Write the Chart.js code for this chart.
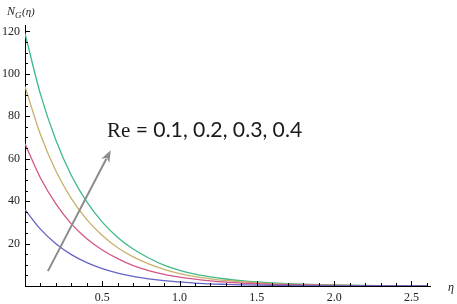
<!DOCTYPE html>
<html><head><meta charset="utf-8">
<script src="https://cdn.jsdelivr.net/npm/chart.js@4"></script>
<style>html,body{margin:0;padding:0;background:#fff}canvas{display:block}</style>
</head><body>
<canvas id="c" width="457" height="304"></canvas>
<script>
const etaValues = [0,0.1,0.2,0.3,0.4,0.5,0.6,0.7,0.8,0.9,1.0,1.1,1.2,1.3,1.4,1.5,1.6,1.7,1.8,1.9,2.0,2.1,2.2,2.3,2.4,2.5,2.6];
const seriesRe01 = [36,26.8,19.9,14.8,11.0,8.2,6.1,4.5,3.4,2.5,1.9,1.4,1.0,0.77,0.57,0.42,0.31,0.23,0.17,0.13,0.1,0.07,0.05,0.04,0.03,0.02,0.02];
const seriesRe02 = [67,50.9,38.7,29.3,22.3,17.0,12.9,9.6,7.3,5.5,4.2,3.2,2.4,1.8,1.4,1.05,0.8,0.6,0.46,0.35,0.26,0.2,0.15,0.11,0.08,0.06,0.05];
const seriesRe03 = [94,71.4,54.2,41.2,31.3,23.8,18.0,13.7,10.4,7.8,5.8,4.4,3.4,2.6,2.0,1.5,1.15,0.88,0.66,0.5,0.38,0.29,0.22,0.17,0.13,0.1,0.07];
const seriesRe04 = [119,90.4,68.7,52.1,39.6,30.1,22.9,17.4,13.2,9.8,7.4,5.6,4.3,3.3,2.5,1.9,1.45,1.1,0.84,0.64,0.49,0.37,0.28,0.21,0.16,0.12,0.09];
const seriesLabels = ['Re = 0.1','Re = 0.2','Re = 0.3','Re = 0.4'];
const seriesColors = ['#6464c4','#d2568a','#c8b06c','#3fba86'];
const xTickValues = [0.5,1.0,1.5,2.0,2.5];
const yTickValues = [20,40,60,80,100,120];
const annotationText = ['Re', ' = 0.1, 0.2, 0.3, 0.4'];
const arrowFrom = {x:0.148, y:7};
const arrowTo = {x:0.555, y:64};
const textAnchor = {x:0.53, y:73.5};

const allSeries = [seriesRe01, seriesRe02, seriesRe03, seriesRe04];
const datasets = allSeries.map((s, i) => ({
  label: seriesLabels[i],
  data: etaValues.map((e, j) => ({x: e, y: s[j]})),
  borderColor: seriesColors[i],
  borderWidth: 1.3,
  pointRadius: 0,
  cubicInterpolationMode: 'monotone',
  fill: false
}));

const decor = {
  id: 'decor',
  afterDraw(chart) {
    const ctx = chart.ctx;
    const xs = chart.scales.x, ys = chart.scales.y;
    const x0 = xs.getPixelForValue(0), y0 = ys.getPixelForValue(0);
    ctx.save();
    ctx.strokeStyle = '#000';
    ctx.lineWidth = 1;
    // x ticks (minor every 0.1, major every 0.5)
    for (let i = 1; i <= 26; i++) {
      const v = i / 10;
      const px = Math.round(xs.getPixelForValue(v)) + 0.5;
      const len = (i % 5 === 0) ? 5 : 3;
      ctx.beginPath(); ctx.moveTo(px, y0); ctx.lineTo(px, y0 - len); ctx.stroke();
    }
    // y ticks (minor every 5, major every 20)
    for (let v = 5; v <= 120; v += 5) {
      const py = Math.round(ys.getPixelForValue(v)) + 0.5;
      const len = (v % 20 === 0) ? 5 : 3;
      ctx.beginPath(); ctx.moveTo(x0, py); ctx.lineTo(x0 + len, py); ctx.stroke();
    }
    // arrow
    const ax1 = xs.getPixelForValue(arrowFrom.x), ay1 = ys.getPixelForValue(arrowFrom.y);
    const ax2 = xs.getPixelForValue(arrowTo.x), ay2 = ys.getPixelForValue(arrowTo.y);
    const ang = Math.atan2(ay2 - ay1, ax2 - ax1);
    const hl = 12, hw = 4.5;
    ctx.strokeStyle = '#8c8c8c'; ctx.fillStyle = '#8c8c8c'; ctx.lineWidth = 2;
    ctx.beginPath(); ctx.moveTo(ax1, ay1);
    ctx.lineTo(ax2 - Math.cos(ang) * hl * 0.8, ay2 - Math.sin(ang) * hl * 0.8); ctx.stroke();
    ctx.beginPath();
    ctx.moveTo(ax2, ay2);
    ctx.lineTo(ax2 - Math.cos(ang) * hl - Math.sin(ang) * hw, ay2 - Math.sin(ang) * hl + Math.cos(ang) * hw);
    ctx.lineTo(ax2 - Math.cos(ang) * hl * 0.7, ay2 - Math.sin(ang) * hl * 0.7);
    ctx.lineTo(ax2 - Math.cos(ang) * hl + Math.sin(ang) * hw, ay2 - Math.sin(ang) * hl - Math.cos(ang) * hw);
    ctx.closePath(); ctx.fill();
    // annotation text
    const tx = xs.getPixelForValue(textAnchor.x), ty = ys.getPixelForValue(textAnchor.y);
    ctx.fillStyle = '#1a1a1a';
    ctx.textBaseline = 'alphabetic';
    ctx.textAlign = 'left';
    ctx.font = '21px "Liberation Serif"';
    ctx.fillText(annotationText[0], tx, ty + 7);
    const w0 = ctx.measureText(annotationText[0]).width;
    ctx.font = '20px Lato';
    const w1 = ctx.measureText(annotationText[1]).width;
    const target = 172;
    const fs = 20 * target / w1;
    ctx.font = fs.toFixed(2) + 'px Lato';
    ctx.fillText(annotationText[1], tx + w0, ty + 7);
    // axis titles
    ctx.fillStyle = '#222';
    ctx.font = 'italic 12px "Liberation Serif"';
    ctx.fillText('N', 7, 15);
    ctx.font = 'italic 9px "Liberation Serif"';
    ctx.fillText('G', 15, 18);
    ctx.font = 'italic 11px "Liberation Serif"';
    ctx.fillText('(η)', 22, 15);
    ctx.font = 'italic 12px "Liberation Serif"';
    ctx.fillText('η', 448, 291);
    ctx.restore();
  }
};

new Chart(document.getElementById('c'), {
  type: 'line',
  data: { datasets },
  options: {
    responsive: false,
    animation: false,
    devicePixelRatio: 1,
    layout: { padding: { left: 0, top: 25, right: 27, bottom: 0 } },
    plugins: { legend: { display: false }, tooltip: { enabled: false } },
    scales: {
      x: {
        type: 'linear', min: 0, max: 2.62,
        afterFit: s => { s.height = 18; },
        afterBuildTicks: s => { s.ticks = xTickValues.map(v => ({value: v})); },
        grid: { display: true, drawOnChartArea: false, drawTicks: false },
        border: { display: true, color: '#000', width: 1 },
        ticks: { padding: 5, color: '#222', font: { family: '"Liberation Serif"', size: 12 }, maxRotation: 0,
          callback: v => Number(v).toFixed(1) }
      },
      y: {
        type: 'linear', min: 0, max: 123,
        afterFit: s => { s.width = 25; },
        afterBuildTicks: s => { s.ticks = yTickValues.map(v => ({value: v})); },
        grid: { display: true, drawOnChartArea: false, drawTicks: false },
        border: { display: true, color: '#000', width: 1 },
        ticks: { padding: 5, color: '#222', font: { family: '"Liberation Serif"', size: 12 },
          callback: v => String(v) }
      }
    }
  },
  plugins: [decor]
});
</script>
</body></html>
